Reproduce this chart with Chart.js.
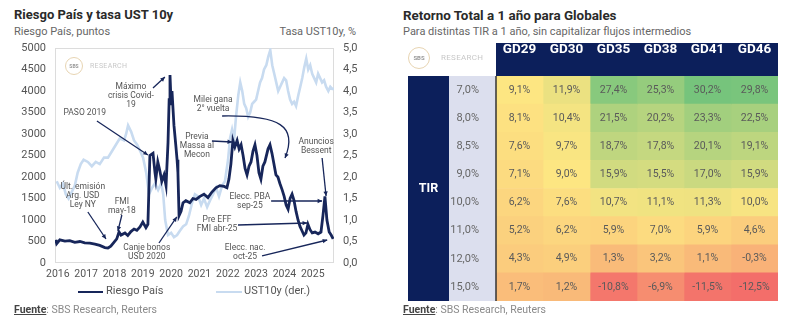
<!DOCTYPE html>
<html>
<head>
<meta charset="utf-8">
<script src="https://cdn.jsdelivr.net/npm/chart.js@4.4.1/dist/chart.umd.min.js"></script>
<style>
  body { margin:0; width:800px; height:332px; background:#fff; font-family: Roboto, 'Noto Sans', sans-serif; position:relative; overflow:hidden; }
  .abs { position:absolute; white-space:nowrap; }
  .title { font-weight:bold; font-size:13px; color:#2a2a2a; }
  .sub { font-size:11px; color:#666; }
  .src { font-size:10.5px; color:#8a8a8a; }
  .src b { color:#444; text-decoration:underline; }
  .leg { font-size:11px; color:#555; }
  .swatch { position:absolute; height:2px; }
  .logo { position:absolute; border:1.5px solid #e7d4b2; border-radius:50%; color:#999; text-align:center; font-weight:bold; }
  .logotxt { position:absolute; color:#c8c8c8; letter-spacing:0.3px; }
  #wrapL { position:absolute; left:0; top:0; width:395px; height:290px; }
  #wrapR { position:absolute; left:395px; top:0; width:405px; height:332px; }
</style>
</head>
<body>

<div class="abs title" style="left:14px; top:7px;">Riesgo País y tasa UST 10y</div>
<div class="abs sub" style="left:14px; top:25px;">Riesgo País, puntos</div>
<div class="abs sub" style="right:444px; top:25px;">Tasa UST10y, %</div>

<div id="wrapL"><canvas id="riesgo"></canvas></div>

<div class="swatch" style="left:78px; top:291px; width:25px; background:#17265a;"></div>
<div class="abs leg" style="left:106px; top:284px;">Riesgo País</div>
<div class="swatch" style="left:216px; top:291px; width:26px; background:#c8dbf0;"></div>
<div class="abs leg" style="left:244px; top:284px;">UST10y (der.)</div>
<div class="abs src" style="left:14px; top:303px;"><b>Fuente</b>: SBS Research, Reuters</div>

<div class="abs title" style="left:403px; top:8px; font-size:13.4px;">Retorno Total a 1 año para Globales</div>
<div class="abs sub" style="left:403px; top:25px;">Para distintas TIR a 1 año, sin capitalizar flujos intermedios</div>

<div id="wrapR"><canvas id="tabla"></canvas></div>
<div class="abs src" style="left:403px; top:303px;"><b>Fuente</b>: SBS Research, Reuters</div>

<div class="logo" style="left:65px; top:57px; width:16px; height:16px; line-height:16px; font-size:5px;">SBS</div>
<div class="abs logotxt" style="left:90px; top:62px; font-size:7px;">RESEARCH</div>
<div class="logo" style="left:408px; top:47px; width:20px; height:20px; line-height:20px; font-size:6px;">SBS</div>
<div class="abs logotxt" style="left:441px; top:53px; font-size:8px;">RESEARCH</div>

<script>
// ---- Riesgo País vs UST10y ----
const riesgoYears = [2015.93, 2015.96, 2016.07, 2016.25, 2016.42, 2016.60, 2016.78, 2016.95, 2017.13, 2017.31,
  2017.48, 2017.66, 2017.77, 2017.87, 2017.98, 2018.08, 2018.16, 2018.23, 2018.37, 2018.47,
  2018.58, 2018.69, 2018.79, 2018.90, 2019.00, 2019.11, 2019.18, 2019.25, 2019.36, 2019.43,
  2019.46, 2019.53, 2019.60, 2019.67, 2019.75, 2019.82, 2019.89, 2019.93, 2019.96, 2020.00,
  2020.03, 2020.10, 2020.17, 2020.21, 2020.24, 2020.28, 2020.35, 2020.42, 2020.52, 2020.66,
  2020.77, 2020.88, 2021.02, 2021.16, 2021.30, 2021.44, 2021.58, 2021.72, 2021.87, 2021.97,
  2022.04, 2022.11, 2022.18, 2022.25, 2022.33, 2022.40, 2022.47, 2022.54, 2022.61, 2022.68,
  2022.75, 2022.82, 2022.89, 2022.96, 2023.03, 2023.10, 2023.17, 2023.24, 2023.31, 2023.42,
  2023.49, 2023.56, 2023.63, 2023.70, 2023.77, 2023.84, 2023.92, 2023.99, 2024.06, 2024.13,
  2024.20, 2024.27, 2024.34, 2024.41, 2024.48, 2024.55, 2024.62, 2024.69, 2024.76, 2024.83,
  2024.90, 2024.98, 2025.08, 2025.19, 2025.29, 2025.36, 2025.43, 2025.50, 2025.58, 2025.65, 2025.72];
const riesgoPais = [540, 450, 540, 510, 520, 480, 500, 470, 460, 440,
  410, 360, 350, 390, 480, 560, 720, 650, 700, 640,
  730, 790, 760, 840, 950, 820, 900, 2500, 2550, 2100,
  1950, 2350, 2150, 1900, 2050, 1800, 2800, 3800, 4370, 3700,
  4000, 3200, 2700, 2400, 2100, 1100, 1200, 1400, 1450, 1400,
  1500, 1480, 1550, 1600, 1520, 1650, 1750, 1800, 1780, 1750,
  1950, 2300, 2850, 2700, 2850, 2650, 2750, 2500, 2200, 2050,
  2250, 2350, 2600, 2750, 2500, 2100, 1950, 2250, 2350, 2650,
  2750, 2550, 2300, 2050, 2000, 1850, 1700, 1550, 1350, 1250,
  1500, 1600, 1450, 1200, 1000, 850, 750, 650, 700, 900,
  780, 700, 720, 680, 720, 1100, 1550, 1000, 720, 650, 560];

const ustYears = [2015.96, 2016.07, 2016.18, 2016.28, 2016.38, 2016.49, 2016.60, 2016.70, 2016.81, 2016.91,
  2017.06, 2017.20, 2017.34, 2017.48, 2017.63, 2017.77, 2017.91, 2018.05, 2018.19, 2018.34,
  2018.41, 2018.48, 2018.59, 2018.69, 2018.80, 2018.91, 2019.01, 2019.12, 2019.22, 2019.33,
  2019.43, 2019.54, 2019.65, 2019.72, 2019.79, 2019.89, 2020.00, 2020.10, 2020.21, 2020.31,
  2020.42, 2020.53, 2020.63, 2020.74, 2020.84, 2020.95, 2021.06, 2021.16, 2021.27, 2021.37,
  2021.48, 2021.59, 2021.69, 2021.80, 2021.90, 2022.01, 2022.08, 2022.15, 2022.22, 2022.29,
  2022.37, 2022.44, 2022.51, 2022.58, 2022.65, 2022.72, 2022.79, 2022.86, 2022.93, 2023.00,
  2023.07, 2023.14, 2023.21, 2023.28, 2023.36, 2023.43, 2023.50, 2023.57, 2023.64, 2023.71,
  2023.78, 2023.85, 2023.92, 2023.99, 2024.06, 2024.13, 2024.20, 2024.27, 2024.34, 2024.41,
  2024.49, 2024.56, 2024.63, 2024.70, 2024.77, 2024.84, 2024.91, 2024.98, 2025.05, 2025.12,
  2025.19, 2025.26, 2025.33, 2025.40, 2025.47, 2025.55, 2025.62, 2025.69, 2025.75];
const ust10y = [1.9, 1.75, 1.85, 1.6, 1.5, 1.65, 1.8, 2.1, 2.3, 2.4,
  2.35, 2.25, 2.35, 2.3, 2.45, 2.45, 2.6, 2.75, 2.9, 2.85,
  3.0, 3.2, 3.05, 2.85, 2.75, 2.6, 2.45, 2.1, 1.6, 1.75,
  1.85, 1.7, 1.85, 1.6, 1.0, 0.65, 0.7, 0.6, 0.65, 0.75,
  0.85, 0.9, 1.1, 1.4, 1.6, 1.55, 1.35, 1.5, 1.3, 1.45,
  1.6, 1.75, 1.55, 1.8, 1.9, 2.4, 2.9, 3.1, 2.85, 3.4,
  3.9, 4.2, 4.0, 3.7, 3.6, 3.4, 3.5, 3.7, 3.75, 3.8,
  4.0, 4.2, 4.3, 4.5, 4.6, 4.8, 4.95, 4.6, 4.4, 4.2,
  4.0, 4.1, 4.2, 4.3, 4.25, 4.0, 3.8, 3.7, 3.75, 3.65,
  3.9, 4.1, 4.3, 4.55, 4.75, 4.5, 4.6, 4.4, 4.3, 4.2,
  4.4, 4.3, 4.2, 4.25, 4.1, 4.0, 4.1, 4.05, 4.05];

const leftTicks = [0, 500, 1000, 1500, 2000, 2500, 3000, 3500, 4000, 4500, 5000];
const rightTicks = [0, 0.5, 1, 1.5, 2, 2.5, 3, 3.5, 4, 4.5, 5];

// notes: text anchor + arrow, in data units (year, puntos)
const notes = [
  { lines: ['Máximo', 'crisis Covid-', '19'], at: [2018.58, 4093], from: [2019.36, 4070], to: [2019.78, 4326] },
  { lines: ['PASO 2019'], at: [2016.95, 3488], from: [2017.38, 3302], to: [2019.18, 2512] },
  { lines: ['Últ. emisión', 'Arg. USD', 'Ley NY'], at: [2016.88, 1767], from: [2017.06, 1186], to: [2017.70, 558] },
  { lines: ['FMI', 'may-18'], at: [2018.26, 1419], from: [2018.26, 1116], to: [2018.12, 744] },
  { lines: ['Canje bonos', 'USD 2020'], at: [2019.14, 349], from: [2019.57, 465], to: [2020.20, 1070] },
  { lines: ['Previa', 'Massa al', 'Mecon'], at: [2020.91, 2930], from: [2021.44, 2837], to: [2022.15, 2814] },
  { lines: ['Milei gana', '2° vuelta'], at: [2021.48, 3791], from: [2021.80, 3419], to: [2024.02, 2442],
    curve: [[2023.84, 3442], [2024.48, 3186]] },
  { lines: ['Anuncios', 'Bessent'], at: [2025.12, 2814], from: [2025.33, 2442], to: [2025.47, 1558] },
  { lines: ['Elecc. PBA', 'sep-25'], at: [2022.78, 1535], from: [2023.53, 1442], to: [2025.33, 1442] },
  { lines: ['Pre EFF', 'FMI abr-25'], at: [2021.62, 1000], from: [2022.36, 884], to: [2024.80, 930] },
  { lines: ['Elecc. nac.', 'oct-25'], at: [2022.61, 349], from: [2023.21, 163], to: [2025.51, 535] }
];

// ---- Retorno total heatmap ----
const bonos = ['GD29', 'GD30', 'GD35', 'GD38', 'GD41', 'GD46'];
const tirs = ['7,0%', '8,0%', '8,5%', '9,0%', '10,0%', '11,0%', '12,0%', '15,0%'];
const gd29 = [9.1, 8.1, 7.6, 7.1, 6.2, 5.2, 4.3, 1.7];
const gd30 = [11.9, 10.4, 9.7, 9.0, 7.6, 6.2, 4.9, 1.2];
const gd35 = [27.4, 21.5, 18.7, 15.9, 10.7, 5.9, 1.3, -10.8];
const gd38 = [25.3, 20.2, 17.8, 15.5, 11.1, 7.0, 3.2, -6.9];
const gd41 = [30.2, 23.3, 20.1, 17.0, 11.3, 5.9, 1.1, -11.5];
const gd46 = [29.8, 22.5, 19.1, 15.9, 10.0, 4.6, -0.3, -12.5];
const cellWidth = [1, 1, 1, 1, 1, 1, 1, 1];

const NAVY = '#0c1f5b';

function fmtPct(v) { return v.toFixed(1).replace('.', ',') + '%'; }

const columns = [gd29, gd30, gd35, gd38, gd41, gd46];
const allVals = columns.flat().slice().sort((a, b) => a - b);
const vMin = allVals[0], vMax = allVals[allVals.length - 1];
const vMid = (allVals[23] + allVals[24]) / 2;
const RED = [243, 110, 106], YEL = [253, 230, 130], GRN = [118, 196, 124];
function mix(a, b, t) { return a.map((c, i) => Math.round(c + (b[i] - c) * t)); }
function cellColor(v) {
  let c;
  if (v <= vMid) c = mix(RED, YEL, (v - vMin) / (vMid - vMin));
  else c = mix(YEL, GRN, (v - vMid) / (vMax - vMid));
  return 'rgb(' + c.join(',') + ')';
}

// ---------- left chart ----------
const boxPlugin = {
  id: 'box',
  beforeDatasetsDraw(chart) {
    const a = chart.chartArea, ctx = chart.ctx;
    ctx.save();
    ctx.strokeStyle = '#dcdcdc';
    ctx.lineWidth = 1;
    ctx.strokeRect(a.left + 0.5, a.top + 0.5, a.right - a.left - 1, a.bottom - a.top - 1);
    ctx.restore();
  }
};

function arrowHead(ctx, x0, y0, x1, y1) {
  const ang = Math.atan2(y1 - y0, x1 - x0), s = 5;
  ctx.beginPath();
  ctx.moveTo(x1, y1);
  ctx.lineTo(x1 - s * Math.cos(ang - 0.45), y1 - s * Math.sin(ang - 0.45));
  ctx.lineTo(x1 - s * Math.cos(ang + 0.45), y1 - s * Math.sin(ang + 0.45));
  ctx.closePath();
  ctx.fill();
}

const notesPlugin = {
  id: 'notes',
  afterDatasetsDraw(chart) {
    const ctx = chart.ctx, xs = chart.scales.x, ys = chart.scales.y;
    const px = p => [xs.getPixelForValue(p[0]), ys.getPixelForValue(p[1])];
    ctx.save();
    ctx.font = '8.5px Roboto';
    ctx.textAlign = 'center';
    ctx.textBaseline = 'middle';
    notes.forEach(n => {
      const [tx, ty] = px(n.at);
      ctx.fillStyle = '#555';
      n.lines.forEach((l, i) => ctx.fillText(l, tx, ty + i * 9));
      const [x0, y0] = px(n.from), [x1, y1] = px(n.to);
      ctx.strokeStyle = '#17265a';
      ctx.fillStyle = '#17265a';
      ctx.lineWidth = 1.3;
      ctx.beginPath();
      ctx.moveTo(x0, y0);
      if (n.curve) {
        const [c1x, c1y] = px(n.curve[0]), [c2x, c2y] = px(n.curve[1]);
        ctx.bezierCurveTo(c1x, c1y, c2x, c2y, x1, y1);
        ctx.stroke();
        arrowHead(ctx, c2x, c2y, x1, y1);
      } else {
        ctx.lineTo(x1, y1);
        ctx.stroke();
        arrowHead(ctx, x0, y0, x1, y1);
      }
    });
    ctx.restore();
  }
};

new Chart(document.getElementById('riesgo'), {
  type: 'line',
  data: {
    datasets: [{
      label: 'Riesgo País',
      data: riesgoYears.map((x, i) => ({ x: x, y: riesgoPais[i] })),
      borderColor: '#17265a',
      borderWidth: 2.8,
      pointRadius: 0,
      yAxisID: 'y'
    }, {
      label: 'UST10y (der.)',
      data: ustYears.map((x, i) => ({ x: x, y: ust10y[i] })),
      borderColor: '#c8dbf0',
      borderWidth: 2.6,
      pointRadius: 0,
      yAxisID: 'y1'
    }]
  },
  options: {
    responsive: true,
    maintainAspectRatio: false,
    animation: false,
    layout: { padding: { top: 48, left: 0, right: 0, bottom: 0 } },
    plugins: { legend: { display: false }, tooltip: { enabled: false } },
    scales: {
      x: {
        type: 'linear', min: 2015.9, max: 2025.75,
        grid: { display: false, drawTicks: false }, border: { display: false },
        ticks: { stepSize: 1, includeBounds: false, maxRotation: 0, autoSkip: false, padding: 5,
          color: '#555', font: { family: 'Roboto', size: 10.5 }, callback: v => String(v) },
        afterFit: s => { s.height = 27; }
      },
      y: {
        position: 'left', min: 0, max: 5000,
        grid: { display: false, drawTicks: false }, border: { display: false },
        afterBuildTicks: s => { s.ticks = leftTicks.map(v => ({ value: v })); },
        ticks: { padding: 9, color: '#555', font: { family: 'Roboto', size: 11 }, callback: v => String(v) },
        afterFit: s => { s.width = 55; }
      },
      y1: {
        position: 'right', min: 0, max: 5,
        grid: { display: false, drawTicks: false }, border: { display: false },
        afterBuildTicks: s => { s.ticks = rightTicks.map(v => ({ value: v })); },
        ticks: { padding: 9, color: '#555', font: { family: 'Roboto', size: 11 },
          callback: v => v.toFixed(1).replace('.', ',') },
        afterFit: s => { s.width = 61; }
      }
    }
  },
  plugins: [boxPlugin, notesPlugin]
});

// ---------- right chart ----------
const framePlugin = {
  id: 'frame',
  beforeDraw(chart) {
    const a = chart.chartArea, ctx = chart.ctx;
    ctx.save();
    ctx.fillStyle = NAVY;
    ctx.fillRect(a.left, 43, a.right - a.left, a.top - 43);
    ctx.fillRect(13, a.top, 41, a.bottom - a.top);
    ctx.fillStyle = '#dcdfee';
    ctx.fillRect(54, a.top, a.left - 54, a.bottom - a.top);
    ctx.fillStyle = '#fff';
    ctx.font = 'bold 12.5px Roboto';
    ctx.textAlign = 'center';
    ctx.textBaseline = 'middle';
    ctx.fillText('TIR', 33.5, (a.top + a.bottom) / 2);
    ctx.restore();
  },
  afterDatasetsDraw(chart) {
    const ctx = chart.ctx, a = chart.chartArea;
    ctx.save();
    ctx.font = '10.5px Roboto';
    ctx.fillStyle = '#5a5a5a';
    ctx.textAlign = 'center';
    ctx.textBaseline = 'middle';
    chart.data.datasets.forEach((ds, j) => {
      chart.getDatasetMeta(j).data.forEach((bar, i) => {
        ctx.fillText(fmtPct(columns[j][i]), (bar.x + bar.base) / 2, bar.y);
      });
    });
    ctx.strokeStyle = '#333';
    ctx.lineWidth = 1.5;
    ctx.beginPath();
    ctx.moveTo(a.left, a.top);
    ctx.lineTo(a.left, a.bottom);
    ctx.stroke();
    ctx.restore();
  }
};

new Chart(document.getElementById('tabla'), {
  type: 'bar',
  data: {
    labels: tirs,
    datasets: bonos.map((b, j) => ({
      label: b,
      data: cellWidth,
      backgroundColor: columns[j].map(cellColor),
      borderWidth: 0,
      barPercentage: 1,
      categoryPercentage: 1
    }))
  },
  options: {
    indexAxis: 'y',
    responsive: true,
    maintainAspectRatio: false,
    animation: false,
    layout: { padding: { top: 43, right: 22, bottom: 31, left: 0 } },
    plugins: { legend: { display: false }, tooltip: { enabled: false } },
    scales: {
      x: { type: 'linear', stacked: true, min: 0, max: 6, display: false },
      x2: {
        type: 'category', position: 'top', labels: bonos, offset: true,
        grid: { display: false }, border: { display: false },
        ticks: { color: '#fff', padding: 10, font: { family: 'Roboto', size: 13.5, weight: 'bold' } },
        afterFit: s => { s.height = 33; }
      },
      y: {
        type: 'category', stacked: true,
        grid: { display: false }, border: { display: false },
        ticks: { padding: 9, color: '#666', font: { family: 'Roboto', size: 11 } },
        afterFit: s => { s.width = 101; }
      }
    }
  },
  plugins: [framePlugin]
});
</script>
</body>
</html>
